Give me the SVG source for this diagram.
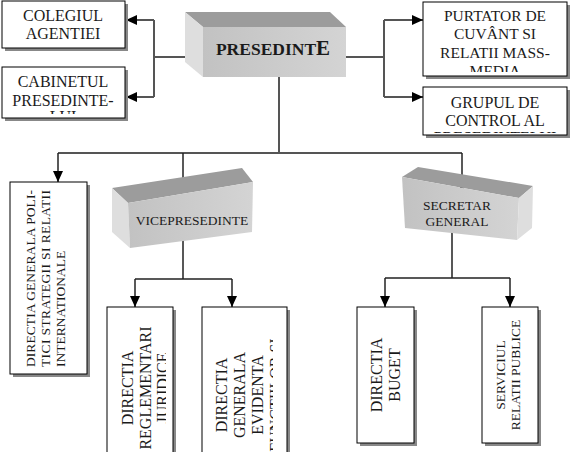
<svg xmlns="http://www.w3.org/2000/svg" width="571" height="452" viewBox="0 0 571 452">
<style>
text{font-family:"Liberation Serif","Times New Roman",serif;fill:#1a1a1a}
.box{fill:#fff;stroke:#000;stroke-width:1}
.sh{fill:#888}
.ln{fill:none;stroke:#555;stroke-width:2}
.lk{fill:none;stroke:#222;stroke-width:1.5}
.t16{font-size:16px}
.t155{font-size:15.5px}
.t135{font-size:13.5px}
.top{fill:#9c9c9c}
.side{fill:#dedede}
</style>
<defs>
<marker id="ah" markerUnits="userSpaceOnUse" markerWidth="12" markerHeight="12" viewBox="0 0 12 12" refX="11" refY="6" orient="auto">
<path d="M0,1 L11,6 L0,11 Z" fill="#000"/>
</marker>
<linearGradient id="fg" x1="0" y1="0" x2="1" y2="0">
<stop offset="0" stop-color="#c2c2c2"/><stop offset="1" stop-color="#d4d4d4"/>
</linearGradient>
<clipPath id="c1"><rect x="3" y="2" width="121" height="45"/></clipPath>
<clipPath id="c2"><rect x="3" y="68" width="121" height="46"/></clipPath>
<clipPath id="c3"><rect x="424" y="3" width="142" height="69"/></clipPath>
<clipPath id="c4"><rect x="424" y="88" width="142" height="45"/></clipPath>
<clipPath id="c5"><rect x="108" y="308" width="58" height="150"/></clipPath>
<clipPath id="c6"><rect x="203" y="308" width="70" height="150"/></clipPath>
</defs>

<g id="connectors">
<path class="ln" d="M203,57 H154 M154,20 V97 M346,57 H384 M384,20 V97 M279,77 V153 M58,153 H462"/>
<path class="ln" d="M154,20 H126" marker-end="url(#ah)"/>
<path class="ln" d="M154,97 H126" marker-end="url(#ah)"/>
<path class="ln" d="M384,20 H423" marker-end="url(#ah)"/>
<path class="ln" d="M384,97 H423" marker-end="url(#ah)"/>
<path class="lk" d="M58,153 V182" marker-end="url(#ah)"/>
<path class="lk" d="M183,153 V192" marker-end="url(#ah)"/>
<path class="lk" d="M462,153 V192" marker-end="url(#ah)"/>
<path class="lk" d="M183,240 V279 M135,279 H232 M452,232 V278 M385,278 H510"/>
<path class="lk" d="M135,279 V307" marker-end="url(#ah)"/>
<path class="lk" d="M232,279 V307" marker-end="url(#ah)"/>
<path class="lk" d="M385,278 V307" marker-end="url(#ah)"/>
<path class="lk" d="M510,278 V307" marker-end="url(#ah)"/>
</g>

<g id="presedinte">
<polygon class="top" points="185,12 330,12 346,27 203,27"/>
<polygon class="side" points="185,12 203,27 203,77 185,62"/>
<rect x="203" y="27" width="143" height="50" fill="url(#fg)"/>
<text x="273" y="55" text-anchor="middle" font-weight="bold" font-size="17.5px" fill="#111">PRESEDINT<tspan font-size="21px">E</tspan></text>
</g>

<g id="colegiul">
<rect class="sh" x="5" y="4" width="123" height="47"/>
<rect class="box" x="2" y="1" width="123" height="47"/>
<g clip-path="url(#c1)" class="t16">
<text x="63" y="21" text-anchor="middle">COLEGIUL</text>
<text x="63" y="39" text-anchor="middle">AGENTIEI</text>
</g>
</g>

<g id="cabinetul">
<rect class="sh" x="5" y="70" width="123" height="51"/>
<rect class="box" x="2" y="67" width="123" height="51"/>
<g clip-path="url(#c2)" class="t16">
<text x="63" y="87" text-anchor="middle">CABINETUL</text>
<text x="63" y="106" text-anchor="middle">PRESEDINTE-</text>
<text x="63" y="122" text-anchor="middle">LUI</text>
</g>
</g>

<g id="purtator">
<rect class="sh" x="426" y="5" width="144" height="74"/>
<rect class="box" x="423" y="2" width="144" height="74"/>
<g clip-path="url(#c3)" class="t155">
<text x="495" y="21" text-anchor="middle">PURTATOR DE</text>
<text x="495" y="39" text-anchor="middle">CUVÂNT SI</text>
<text x="495" y="57.5" text-anchor="middle">RELATII MASS-</text>
<text x="495" y="76" text-anchor="middle">MEDIA</text>
</g>
</g>

<g id="grupul">
<rect class="sh" x="426" y="90" width="144" height="48"/>
<rect class="box" x="423" y="87" width="144" height="48"/>
<g clip-path="url(#c4)" class="t16">
<text x="495" y="108" text-anchor="middle">GRUPUL DE</text>
<text x="495" y="126" text-anchor="middle">CONTROL AL</text>
<text x="495" y="143" text-anchor="middle">PRESEDINTELUI</text>
</g>
</g>

<g id="directia-politici">
<rect class="sh" x="13" y="185" width="77" height="192"/>
<rect class="box" x="10" y="182" width="77" height="192"/>
<g class="t135">
<text x="35" y="367" transform="rotate(-90 35 367)" textLength="177" lengthAdjust="spacing">DIRECTIA GENERALA POLI-</text>
<text x="50" y="367" transform="rotate(-90 50 367)" textLength="177" lengthAdjust="spacing">TICI  STRATEGII  SI  RELATII</text>
<text x="65" y="367" transform="rotate(-90 65 367)">INTERNATIONALE</text>
</g>
</g>

<g id="vicepresedinte">
<polygon class="top" points="112,188 242,168 253,182 128,203"/>
<polygon class="side" points="112,188 128,203 130,248 112,232"/>
<polygon fill="url(#fg)" points="128,203 253,182 252,232 130,248"/>
<text x="192" y="225" text-anchor="middle" class="t135" fill="#222">VICEPRESEDINTE</text>
</g>

<g id="secretar">
<polygon class="top" points="402,177 418,167 533,186 519,198"/>
<polygon fill="url(#fg)" points="402,177 519,198 517,240 405,228"/>
<polygon class="side" points="519,198 533,186 532,228 517,240"/>
<text x="457" y="210" text-anchor="middle" class="t135" fill="#222">SECRETAR</text>
<text x="457" y="226" text-anchor="middle" class="t135" fill="#222">GENERAL</text>
</g>

<g id="directia-reglementari">
<rect class="sh" x="110" y="310" width="66" height="160"/>
<rect class="box" x="107" y="307" width="66" height="160"/>
<g clip-path="url(#c5)" class="t16">
<text x="133" y="388" transform="rotate(-90 133 388)" text-anchor="middle">DIRECTIA</text>
<text x="150.5" y="388" transform="rotate(-90 150.5 388)" text-anchor="middle">REGLEMENTARI</text>
<text x="168" y="388" transform="rotate(-90 168 388)" text-anchor="middle">JURIDICE</text>
</g>
</g>

<g id="directia-evidenta">
<rect class="sh" x="205" y="310" width="85" height="160"/>
<rect class="box" x="202" y="307" width="85" height="160"/>
<g clip-path="url(#c6)" class="t16">
<text x="227" y="395" transform="rotate(-90 227 395)" text-anchor="middle">DIRECTIA</text>
<text x="245" y="395" transform="rotate(-90 245 395)" text-anchor="middle">GENERALA</text>
<text x="263" y="395" transform="rotate(-90 263 395)" text-anchor="middle">EVIDENTA</text>
<text x="281" y="395" transform="rotate(-90 281 395)" text-anchor="middle">FUNCTIILOR SI</text>
</g>
</g>

<g id="directia-buget">
<rect class="sh" x="360" y="310" width="57" height="136"/>
<rect class="box" x="357" y="307" width="57" height="136"/>
<text x="382" y="375" transform="rotate(-90 382 375)" text-anchor="middle" class="t16">DIRECTIA</text>
<text x="400" y="375" transform="rotate(-90 400 375)" text-anchor="middle" class="t16">BUGET</text>
</g>

<g id="serviciul">
<rect class="sh" x="485" y="310" width="56" height="136"/>
<rect class="box" x="482" y="307" width="56" height="136"/>
<text x="505" y="375" transform="rotate(-90 505 375)" text-anchor="middle" class="t135">SERVICIUL</text>
<text x="520" y="375" transform="rotate(-90 520 375)" text-anchor="middle" class="t135">RELATII PUBLICE</text>
</g>
</svg>
